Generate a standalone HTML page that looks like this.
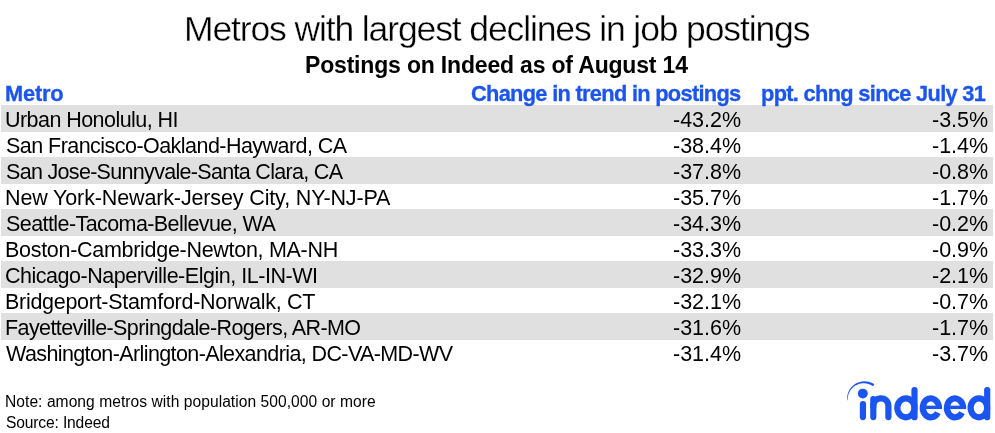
<!DOCTYPE html>
<html><head><meta charset="utf-8"><style>
html,body{margin:0;padding:0;background:#fff;}
body{width:995px;height:433px;position:relative;overflow:hidden;font-family:"Liberation Sans",sans-serif;}
.t{position:absolute;white-space:nowrap;will-change:transform;}
.band{position:absolute;left:1px;width:992px;height:27px;background:#e0e0e0;}
svg.logo{position:absolute;left:0;top:0;}
</style></head><body>
<div class="band" style="top:105.00px"></div><div class="band" style="top:157.00px"></div><div class="band" style="top:209.00px"></div><div class="band" style="top:261.00px"></div><div class="band" style="top:313.00px"></div>
<div class="t" style="left:183.70px;top:11.55px;font-size:35.5px;line-height:35.5px;font-weight:normal;color:#000;letter-spacing:-1.125px;-webkit-text-stroke:0.35px #fff">Metros with largest declines in job postings</div>
<div class="t" style="left:305.00px;top:54.13px;font-size:23px;line-height:23px;font-weight:bold;color:#000;letter-spacing:-0.181px">Postings on Indeed as of August 14</div>
<div class="t" style="left:4.80px;top:83.45px;font-size:21.8px;line-height:21.8px;font-weight:bold;color:#1b55f0;letter-spacing:-0.180px;-webkit-text-stroke:0.3px #1b55f0">Metro</div>
<div class="t" style="left:470.90px;top:83.45px;font-size:21.8px;line-height:21.8px;font-weight:bold;color:#1b55f0;letter-spacing:-0.692px;-webkit-text-stroke:0.3px #1b55f0">Change in trend in postings</div>
<div class="t" style="left:760.90px;top:83.45px;font-size:21.8px;line-height:21.8px;font-weight:bold;color:#1b55f0;letter-spacing:-0.678px;-webkit-text-stroke:0.3px #1b55f0">ppt. chng since July 31</div>
<div class="t" style="left:5.20px;top:109.90px;font-size:21.5px;line-height:21.5px;font-weight:normal;color:#000;letter-spacing:-0.551px">Urban Honolulu, HI</div>
<div class="t" style="right:254.28px;top:109.90px;font-size:21.5px;line-height:21.5px;font-weight:normal;color:#000">-43.2%</div>
<div class="t" style="right:6.78px;top:109.90px;font-size:21.5px;line-height:21.5px;font-weight:normal;color:#000">-3.5%</div>
<div class="t" style="left:6.20px;top:135.86px;font-size:21.5px;line-height:21.5px;font-weight:normal;color:#000;letter-spacing:-0.541px">San Francisco-Oakland-Hayward, CA</div>
<div class="t" style="right:254.28px;top:135.86px;font-size:21.5px;line-height:21.5px;font-weight:normal;color:#000">-38.4%</div>
<div class="t" style="right:6.78px;top:135.86px;font-size:21.5px;line-height:21.5px;font-weight:normal;color:#000">-1.4%</div>
<div class="t" style="left:6.20px;top:161.82px;font-size:21.5px;line-height:21.5px;font-weight:normal;color:#000;letter-spacing:-0.687px">San Jose-Sunnyvale-Santa Clara, CA</div>
<div class="t" style="right:254.28px;top:161.82px;font-size:21.5px;line-height:21.5px;font-weight:normal;color:#000">-37.8%</div>
<div class="t" style="right:6.78px;top:161.82px;font-size:21.5px;line-height:21.5px;font-weight:normal;color:#000">-0.8%</div>
<div class="t" style="left:5.20px;top:187.78px;font-size:21.5px;line-height:21.5px;font-weight:normal;color:#000;letter-spacing:-0.134px">New York-Newark-Jersey City, NY-NJ-PA</div>
<div class="t" style="right:254.28px;top:187.78px;font-size:21.5px;line-height:21.5px;font-weight:normal;color:#000">-35.7%</div>
<div class="t" style="right:6.78px;top:187.78px;font-size:21.5px;line-height:21.5px;font-weight:normal;color:#000">-1.7%</div>
<div class="t" style="left:6.20px;top:213.74px;font-size:21.5px;line-height:21.5px;font-weight:normal;color:#000;letter-spacing:-0.579px">Seattle-Tacoma-Bellevue, WA</div>
<div class="t" style="right:254.28px;top:213.74px;font-size:21.5px;line-height:21.5px;font-weight:normal;color:#000">-34.3%</div>
<div class="t" style="right:6.78px;top:213.74px;font-size:21.5px;line-height:21.5px;font-weight:normal;color:#000">-0.2%</div>
<div class="t" style="left:5.20px;top:239.70px;font-size:21.5px;line-height:21.5px;font-weight:normal;color:#000;letter-spacing:-0.293px">Boston-Cambridge-Newton, MA-NH</div>
<div class="t" style="right:254.28px;top:239.70px;font-size:21.5px;line-height:21.5px;font-weight:normal;color:#000">-33.3%</div>
<div class="t" style="right:6.78px;top:239.70px;font-size:21.5px;line-height:21.5px;font-weight:normal;color:#000">-0.9%</div>
<div class="t" style="left:5.20px;top:265.66px;font-size:21.5px;line-height:21.5px;font-weight:normal;color:#000;letter-spacing:-0.473px">Chicago-Naperville-Elgin, IL-IN-WI</div>
<div class="t" style="right:254.28px;top:265.66px;font-size:21.5px;line-height:21.5px;font-weight:normal;color:#000">-32.9%</div>
<div class="t" style="right:6.78px;top:265.66px;font-size:21.5px;line-height:21.5px;font-weight:normal;color:#000">-2.1%</div>
<div class="t" style="left:5.20px;top:291.62px;font-size:21.5px;line-height:21.5px;font-weight:normal;color:#000;letter-spacing:-0.286px">Bridgeport-Stamford-Norwalk, CT</div>
<div class="t" style="right:254.28px;top:291.62px;font-size:21.5px;line-height:21.5px;font-weight:normal;color:#000">-32.1%</div>
<div class="t" style="right:6.78px;top:291.62px;font-size:21.5px;line-height:21.5px;font-weight:normal;color:#000">-0.7%</div>
<div class="t" style="left:5.20px;top:317.58px;font-size:21.5px;line-height:21.5px;font-weight:normal;color:#000;letter-spacing:-0.599px">Fayetteville-Springdale-Rogers, AR-MO</div>
<div class="t" style="right:254.28px;top:317.58px;font-size:21.5px;line-height:21.5px;font-weight:normal;color:#000">-31.6%</div>
<div class="t" style="right:6.78px;top:317.58px;font-size:21.5px;line-height:21.5px;font-weight:normal;color:#000">-1.7%</div>
<div class="t" style="left:6.20px;top:343.54px;font-size:21.5px;line-height:21.5px;font-weight:normal;color:#000;letter-spacing:-0.605px">Washington-Arlington-Alexandria, DC-VA-MD-WV</div>
<div class="t" style="right:254.28px;top:343.54px;font-size:21.5px;line-height:21.5px;font-weight:normal;color:#000">-31.4%</div>
<div class="t" style="right:6.78px;top:343.54px;font-size:21.5px;line-height:21.5px;font-weight:normal;color:#000">-3.7%</div>
<div class="t" style="left:4.80px;top:394.39px;font-size:15.6px;line-height:15.6px;font-weight:normal;color:#000;letter-spacing:0.046px">Note: among metros with population 500,000 or more</div>
<div class="t" style="left:5.80px;top:415.49px;font-size:15.6px;line-height:15.6px;font-weight:normal;color:#000;letter-spacing:-0.146px">Source: Indeed</div>
<svg class="logo" width="995" height="433" viewBox="0 0 995 433"><path d="M847.22,400.18 L847.14,399.23 L847.12,398.27 L847.16,397.32 L847.25,396.36 L847.40,395.41 L847.60,394.47 L847.86,393.54 L848.17,392.63 L848.53,391.73 L848.94,390.85 L849.40,390.00 L849.91,389.17 L850.46,388.37 L851.06,387.61 L851.71,386.87 L852.39,386.18 L853.12,385.52 L853.88,384.90 L854.67,384.33 L855.50,383.80 L856.36,383.32 L857.24,382.89 L858.15,382.51 L859.08,382.18 L860.03,381.90 L861.00,381.67 L861.97,381.50 L862.96,381.39 L863.95,381.33 L864.95,381.32 L865.94,381.38 L866.94,381.49 L867.92,381.65 L868.90,381.87 L869.86,382.15 L870.81,382.48 L871.74,382.86 L872.65,383.29 L873.53,383.78 L874.38,384.32 L872.98,386.32 L872.26,385.83 L871.52,385.37 L870.75,384.95 L869.96,384.58 L869.14,384.25 L868.31,383.97 L867.46,383.73 L866.60,383.54 L865.73,383.41 L864.85,383.31 L863.97,383.27 L863.08,383.28 L862.20,383.34 L861.32,383.45 L860.44,383.61 L859.57,383.82 L858.72,384.07 L857.88,384.38 L857.05,384.73 L856.25,385.13 L855.47,385.57 L854.71,386.06 L853.99,386.59 L853.29,387.16 L852.62,387.77 L851.99,388.41 L851.39,389.10 L850.83,389.81 L850.32,390.56 L849.84,391.34 L849.41,392.14 L849.02,392.97 L848.68,393.82 L848.39,394.69 L848.14,395.57 L847.95,396.47 L847.80,397.38 L847.71,398.30 L847.66,399.22 L847.67,400.15Z" fill="#1b55f0"/><circle cx="862.8" cy="393.6" r="4.95" fill="#1b55f0"/><path d="M862.95,404.2 V417.1" fill="none" stroke="#1b55f0" stroke-width="6.2" stroke-linecap="round"/><path d="M873.3,417.1 V399" fill="none" stroke="#1b55f0" stroke-width="6.2" stroke-linecap="round"/><path d="M873.3,406.5 C873.3,401.2 876.6,398.4 880.9,398.4 C885.3,398.4 888.4,401.2 888.4,406.5 V417.1" fill="none" stroke="#1b55f0" stroke-width="6.2" stroke-linecap="round"/><ellipse cx="905.90" cy="407.85" rx="8.6" ry="9.45" fill="none" stroke="#1b55f0" stroke-width="6.2"/><path d="M914.5,390 V417.2" fill="none" stroke="#1b55f0" stroke-width="6.2" stroke-linecap="round"/><ellipse cx="978.90" cy="407.85" rx="8.3" ry="9.45" fill="none" stroke="#1b55f0" stroke-width="6.2"/><path d="M987.2,390 V417.2" fill="none" stroke="#1b55f0" stroke-width="6.2" stroke-linecap="round"/><path d="M938.90,407.85 A8.05,9.45 0 1 0 937.82,412.58" fill="none" stroke="#1b55f0" stroke-width="6.2"/><rect x="921.80" y="405.65" width="20.20" height="3.4" fill="#1b55f0"/><path d="M963.05,407.85 A8.05,9.45 0 1 0 961.97,412.58" fill="none" stroke="#1b55f0" stroke-width="6.2"/><rect x="945.95" y="405.65" width="20.20" height="3.4" fill="#1b55f0"/></svg>
</body></html>
